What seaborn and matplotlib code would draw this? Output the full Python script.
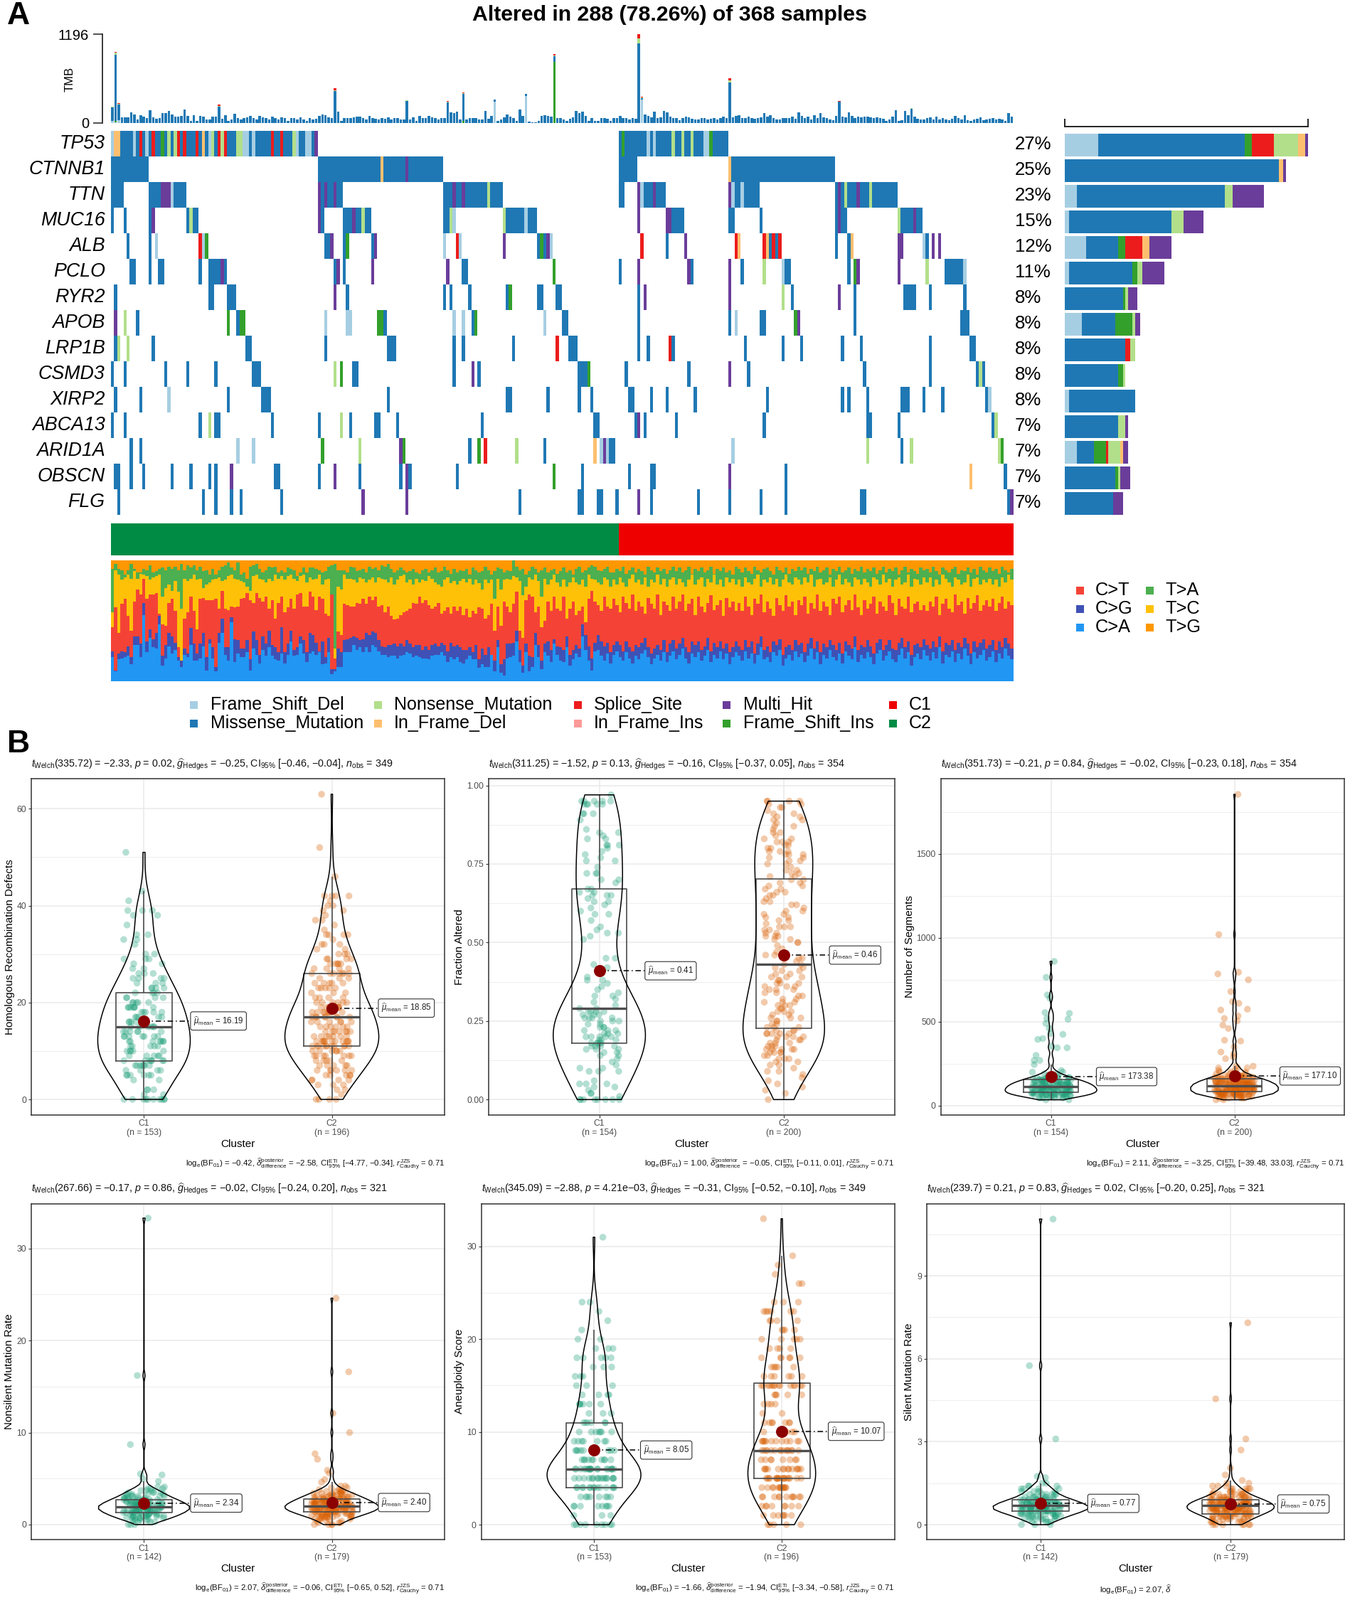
import numpy as np
import pandas as pd
import matplotlib
matplotlib.use('Agg')
import matplotlib.pyplot as plt
from matplotlib.colors import ListedColormap
from matplotlib.patches import Rectangle
import seaborn as sns

# 1. Oncoplot data, one run string per gene: "<samples><type>"
genes = ['TP53', 'CTNNB1', 'TTN', 'MUC16', 'ALB', 'PCLO', 'RYR2', 'APOB', 'LRP1B', 'CSMD3', 'XIRP2', 'ABCA13', 'ARID1A', 'OBSCN', 'FLG']
gene_pct = ['27%', '25%', '23%', '15%', '12%', '11%', '8%', '8%', '8%', '8%', '8%', '7%', '7%', '7%', '7%']

tp53_runs = "0F 1-2I 3-6M 7F 8M 9S 10M 11F 12M 13S 14-15M 16G 17M 18N 19M 20N 21S 22M 23S 24-26M 27S 28M 29I 30M 31F 32N 33M 34S 35N 36S 37-39M 40-41N 42-43F 44M 45F 46-50M 51S 52-53M 54S 55-57M 58N 59F 60-61M 62-63F 64M 65P 162M 163G 164-170M 171F 172M 173F 174-178M 179N 180-181M 182N 183-184M 185N 186-188M 189-190F 191G 192-196M"
ctnnb1_runs = "0-11M 66-85M 86I 87-93M 94P 95-105M 162-167M 197I 198-230M"
ttn_runs = "0-3M 12-15M 16-18P 19F 20-23M 66P 67M 68P 69-70M 71P 72-73M 106-108M 109P 110-111M 112P 113-119M 120N 121-124M 162-163M 168P 169F 170-172M 173P 174-176M 197P 198F 199-200M 201F 202-206M 231M 232P 233M 234N 235-237M 238P 239-241M 242N 243-250M"
muc16_runs = "0M 4M 12M 13P 24M 25N 26-27M 66P 67M 74-76M 77P 78-79M 80N 81-82M 106-107M 108N 109F 125N 126-131M 132F 133-135M 168P 177-178P 179-182M 197-198M 207M 231M 232P 233-234M 251N 252-255M 256P 257-258M"
alb_runs = "5M 12M 14F 28S 29F 30G 68-69M 70P 74M 75G 83M 84P 106F 110S 111F 125P 136M 137G 138M 139P 140F 169S 177M 183P 199S 200I 208S 209I 210M 211S 212M 213S 231M 235M 236I 251-252P 259F 260M 262P 264P"
pclo_runs = "6-7M 12M 15-16M 28M 31-34M 35P 36M 71M 72P 74M 83P 107P 112-113M 141G 162M 168P 184P 185M 197P 201M 208N 214F 215-216M 235M 237G 238P 251P 260N 266-271M 272F"
ryr2_runs = "1M 31-32M 37-39M 71P 75M 106M 108M 114M 126M 127G 136-137M 142-143M 168M 170P 197P 214N 217M 232P 237M 253-256M 261M 272M"
apob_runs = "1P 4N 8M 37G 40M 41-42G 68F 75-76F 85-86G 87M 109F 112F 115M 116G 138F 144-145M 168M 197M 199F 207-208M 218G 219P 237M 271-273M"
lrp1b_runs = "1M 2N 5N 13M 43-44M 68M 88-90M 109M 112M 128M 142S 146-148M 168M 171M 178S 179M 202M 214M 220M 233M 239M 261M 274-275M"
csmd3_runs = "0M 4M 17M 24M 33M 45-47M 71N 73G 77-78M 109M 115P 117M 149-151M 152G 164M 184M 197P 203M 240M 261M 276M 277N 278M"
xirp2_runs = "1M 9M 18F 37M 48-50M 88M 126-127M 139M 149M 153M 165-166M 172M 177M 186M 209M 233M 235M 241M 252-254M 259M 265M 279M 280F"
abca13_runs = "0M 4M 28M 31N 33-34M 51M 66M 73N 76M 84-85M 91M 118M 154-155M 167M 168P 170M 180M 208M 241-242M 251M 281M 282N"
arid1a_runs = "6M 9M 40F 45F 67G 79N 92P 93G 114M 117G 119S 129N 138M 154I 156F 157P 158F 159-160M 198F 241N 252M 255N 283N 284G"
obscn_runs = "1-2M 6M 10M 19M 25M 31M 33M 38P 52-53M 66M 71P 79M 92M 94P 95M 110M 141G 150M 165M 172-173M 197P 215M 274I 285M"
flg_runs = "2M 29M 33M 38M 41M 54M 80P 94P 130M 149-150M 155-156M 161M 168P 172M 187M 197M 207M 215M 239-240M 286M 287P"
gene_runs = [tp53_runs, ctnnb1_runs, ttn_runs, muc16_runs, alb_runs, pclo_runs, ryr2_runs, apob_runs, lrp1b_runs,
             csmd3_runs, xirp2_runs, abca13_runs, arid1a_runs, obscn_runs, flg_runs]

# TMB per sample
tmb_total = [
    223, 960, 265, 73, 77, 80, 144, 112, 48, 105, 90, 64, 169, 80, 57, 70, 137, 134, 160, 112,
    90, 86, 96, 182, 96, 32, 105, 32, 96, 90, 45, 48, 90, 90, 246, 57, 102, 32, 45, 121,
    64, 48, 70, 80, 96, 70, 45, 96, 80, 64, 45, 86, 64, 48, 80, 64, 32, 64, 70, 48,
    80, 48, 32, 64, 45, 57, 96, 112, 102, 80, 70, 469, 150, 32, 64, 64, 70, 80, 86, 90,
    64, 48, 96, 70, 57, 48, 64, 57, 80, 45, 64, 70, 48, 45, 310, 45, 80, 32, 96, 70,
    64, 96, 80, 64, 45, 64, 70, 293, 140, 134, 150, 48, 408, 45, 64, 70, 64, 45, 45, 160,
    57, 96, 319, 32, 48, 80, 112, 86, 64, 32, 182, 96, 395, 16, 10, 10, 32, 96, 102, 96,
    86, 925, 64, 64, 48, 32, 57, 77, 160, 134, 150, 96, 32, 70, 32, 32, 64, 64, 57, 32,
    64, 64, 96, 70, 64, 48, 70, 60, 1196, 357, 112, 96, 80, 150, 64, 80, 160, 140, 90, 64,
    64, 40, 70, 90, 80, 60, 45, 48, 64, 70, 45, 60, 70, 48, 64, 90, 70, 606, 80, 96,
    102, 64, 70, 90, 64, 60, 70, 80, 134, 90, 110, 64, 48, 45, 64, 70, 70, 90, 57, 143,
    96, 70, 90, 45, 110, 64, 134, 80, 70, 48, 40, 96, 297, 90, 80, 143, 96, 70, 90, 80,
    86, 90, 80, 64, 80, 64, 57, 32, 45, 90, 175, 32, 40, 166, 105, 200, 90, 60, 48, 48,
    64, 80, 48, 90, 45, 70, 48, 40, 60, 96, 70, 48, 110, 40, 32, 48, 60, 80, 40, 45,
    57, 64, 48, 60, 45, 32, 134, 90]
tmb_fsd = {0: 30, 1: 10, 2: 40, 122: 290, 132: 360, 169: 320}
tmb_fsi = {1: 15, 112: 25, 141: 820}
tmb_nonsense = {0: 8, 1: 25, 2: 8, 34: 8, 71: 12, 94: 8, 107: 8, 112: 6, 141: 6, 168: 60, 169: 8, 197: 30, 232: 6, 250: 6, 255: 6}
tmb_splice = {0: 6, 1: 15, 2: 6, 34: 15, 71: 25, 94: 6, 107: 8, 112: 8, 122: 8, 141: 15, 168: 60, 169: 12, 197: 30, 232: 8}

# right hand bars, samples per type for each gene
bar_fsd = [14, 0, 5, 2, 9, 2, 0, 7, 0, 0, 2, 0, 5, 0, 0]
bar_missense = [60, 88, 61, 42, 13, 26, 24, 14, 25, 22, 27, 22, 7, 21, 20]
bar_fsi = [3, 0, 0, 0, 3, 2, 1, 7, 0, 2, 0, 0, 5, 1, 0]
bar_splice = [9, 0, 0, 0, 7, 0, 0, 0, 2, 0, 0, 0, 1, 0, 0]
bar_nonsense = [10, 0, 3, 5, 0, 2, 1, 1, 2, 1, 0, 3, 5, 1, 0]
bar_ifd = [3, 2, 0, 0, 3, 0, 0, 0, 0, 0, 0, 0, 1, 0, 0]
bar_multi = [1, 1, 13, 8, 9, 9, 4, 2, 0, 0, 0, 1, 2, 4, 4]

# clusters: C2 then C1 along the samples
n_samples = 288
n_c2 = 162

# mutational signature, cumulative % at the top of each class
sig_ca = [
    20, 8, 18, 19, 20, 21, 14, 30, 30, 20, 55, 24, 36, 28, 27, 47, 13, 19, 29, 23,
    26, 17, 12, 22, 20, 30, 17, 17, 19, 29, 9, 31, 19, 8, 32, 40, 22, 17, 49, 16,
    23, 20, 20, 24, 9, 27, 22, 15, 26, 21, 28, 21, 18, 17, 23, 15, 22, 33, 21, 22,
    31, 23, 16, 23, 25, 22, 24, 14, 15, 24, 6, 8, 12, 12, 24, 24, 24, 30, 26, 28,
    24, 28, 24, 30, 28, 25, 22, 22, 20, 21, 21, 19, 21, 22, 24, 23, 20, 21, 20, 19,
    19, 18, 21, 22, 22, 24, 21, 16, 20, 18, 20, 16, 15, 18, 21, 18, 18, 11, 14, 12,
    12, 22, 8, 28, 7, 5, 19, 20, 21, 33, 16, 7, 24, 8, 12, 30, 20, 10, 24, 21,
    16, 31, 22, 17, 16, 28, 13, 18, 23, 20, 37, 26, 17, 9, 25, 26, 21, 17, 23, 15,
    22, 25, 20, 17, 24, 19, 15, 21, 18, 23, 26, 20, 14, 19, 22, 17, 24, 16, 21, 25,
    18, 22, 27, 19, 15, 23, 20, 24, 17, 21, 26, 16, 22, 19, 25, 18, 23, 14, 20, 24,
    21, 17, 25, 19, 23, 15, 22, 28, 18, 20, 16, 24, 21, 26, 13, 19, 22, 17, 25, 20,
    23, 16, 21, 27, 18, 24, 14, 22, 19, 26, 20, 17, 23, 15, 25, 21, 18, 28, 16, 22,
    19, 24, 20, 14, 23, 26, 17, 21, 25, 18, 16, 22, 27, 19, 24, 13, 20, 23, 18, 26,
    21, 17, 24, 19, 28, 15, 22, 20, 25, 16, 23, 18, 27, 21, 14, 24, 19, 22, 26, 17,
    20, 25, 16, 23, 19, 27, 21, 18]
sig_cg = [
    25, 9, 23, 25, 24, 29, 20, 37, 37, 31, 65, 33, 43, 35, 40, 54, 21, 30, 40, 37,
    32, 20, 17, 27, 23, 44, 31, 23, 31, 40, 20, 35, 28, 12, 40, 52, 28, 28, 53, 35,
    34, 27, 27, 34, 18, 41, 34, 22, 37, 31, 42, 30, 28, 24, 45, 24, 31, 42, 26, 28,
    37, 34, 24, 40, 38, 32, 25, 33, 20, 36, 10, 10, 27, 24, 34, 35, 36, 37, 36, 34,
    35, 40, 38, 41, 40, 34, 29, 28, 30, 30, 31, 29, 31, 29, 34, 31, 28, 30, 30, 26,
    29, 26, 30, 31, 29, 32, 30, 25, 32, 29, 30, 28, 26, 26, 28, 24, 30, 18, 27, 22,
    28, 22, 17, 34, 14, 18, 31, 31, 32, 42, 26, 13, 31, 21, 20, 40, 30, 17, 31, 33,
    26, 35, 29, 28, 26, 37, 22, 26, 30, 27, 47, 38, 29, 19, 32, 38, 33, 29, 32, 24,
    30, 33, 30, 25, 33, 28, 25, 30, 28, 32, 36, 28, 23, 27, 30, 26, 34, 24, 31, 34,
    27, 31, 36, 28, 24, 33, 30, 33, 26, 29, 36, 25, 32, 28, 33, 27, 31, 24, 28, 33,
    29, 26, 34, 28, 33, 23, 31, 37, 26, 29, 24, 33, 30, 35, 22, 28, 30, 26, 34, 30,
    32, 24, 31, 36, 27, 33, 24, 31, 28, 34, 30, 26, 32, 23, 33, 30, 27, 37, 26, 30,
    28, 34, 29, 23, 32, 35, 26, 30, 34, 27, 26, 32, 36, 28, 33, 22, 30, 31, 28, 35,
    30, 27, 33, 28, 37, 25, 32, 30, 34, 26, 32, 28, 36, 31, 23, 33, 28, 32, 35, 27,
    30, 34, 26, 33, 28, 36, 31, 27]
sig_ct = [
    45, 61, 40, 64, 68, 54, 42, 66, 76, 72, 85, 68, 72, 72, 73, 56, 47, 46, 65, 68,
    58, 28, 16, 52, 57, 70, 58, 43, 68, 69, 67, 67, 67, 68, 60, 75, 60, 59, 62, 61,
    62, 68, 69, 73, 67, 65, 73, 69, 66, 70, 60, 67, 52, 65, 70, 57, 61, 68, 60, 72,
    73, 62, 62, 74, 70, 59, 70, 68, 56, 54, 72, 19, 41, 38, 64, 63, 62, 62, 65, 64,
    68, 64, 70, 67, 70, 62, 63, 57, 62, 54, 51, 52, 55, 57, 58, 60, 65, 64, 70, 65,
    67, 63, 60, 62, 65, 56, 58, 61, 56, 62, 58, 62, 55, 60, 53, 58, 56, 61, 60, 52,
    55, 64, 42, 62, 46, 66, 62, 57, 64, 74, 42, 36, 67, 72, 70, 57, 62, 45, 50, 66,
    58, 70, 60, 58, 70, 52, 60, 66, 55, 58, 62, 49, 68, 75, 66, 63, 58, 70, 62, 60,
    68, 63, 57, 70, 65, 60, 72, 58, 66, 62, 56, 69, 64, 60, 72, 55, 66, 63, 58, 70,
    60, 66, 72, 58, 64, 68, 55, 70, 62, 57, 65, 71, 59, 63, 67, 54, 69, 61, 66, 58,
    65, 58, 70, 62, 55, 68, 64, 72, 57, 66, 60, 54, 69, 63, 58, 71, 62, 66, 55, 67,
    63, 70, 56, 65, 60, 72, 58, 66, 62, 55, 68, 64, 70, 57, 63, 67, 59, 72, 61, 55,
    67, 60, 64, 70, 56, 66, 62, 58, 71, 65, 55, 68, 62, 60, 70, 57, 64, 66, 59, 63,
    58, 66, 62, 70, 55, 64, 68, 60, 57, 72, 63, 66, 56, 69, 60, 65, 71, 58, 63, 67,
    62, 68, 58, 65, 70, 60, 66, 63]
sig_tc = [
    57, 92, 88, 84, 86, 88, 85, 91, 85, 89, 88, 87, 84, 86, 87, 88, 70, 77, 80, 75,
    83, 74, 60, 85, 83, 85, 88, 84, 85, 77, 80, 82, 84, 85, 86, 83, 84, 87, 88, 85,
    84, 83, 82, 78, 75, 87, 88, 85, 84, 82, 85, 83, 88, 85, 87, 84, 87, 88, 85, 83,
    87, 88, 82, 86, 84, 85, 88, 80, 84, 85, 72, 27, 78, 76, 88, 85, 85, 84, 82, 86,
    85, 82, 84, 86, 82, 86, 85, 84, 82, 86, 80, 84, 87, 88, 82, 84, 80, 85, 82, 84,
    83, 87, 85, 82, 80, 78, 84, 86, 81, 83, 80, 83, 85, 82, 85, 80, 84, 81, 76, 84,
    81, 84, 68, 85, 76, 84, 85, 84, 87, 86, 83, 71, 78, 86, 84, 88, 83, 70, 85, 80,
    84, 88, 82, 78, 84, 78, 82, 86, 82, 80, 84, 78, 88, 85, 84, 82, 80, 86, 84, 78,
    84, 80, 86, 82, 78, 85, 88, 82, 84, 80, 86, 78, 84, 82, 88, 80, 85, 78, 84, 86,
    80, 85, 82, 78, 84, 88, 80, 84, 86, 78, 85, 82, 88, 80, 84, 78, 86, 82, 85, 80,
    84, 78, 86, 82, 80, 85, 88, 78, 84, 82, 86, 80, 85, 78, 84, 88, 82, 80, 86, 84,
    80, 86, 82, 88, 78, 84, 85, 80, 82, 86, 78, 84, 88, 80, 85, 82, 78, 86, 84, 80,
    85, 82, 78, 86, 84, 80, 88, 82, 85, 78, 84, 86, 80, 82, 88, 78, 85, 84, 80, 86,
    82, 86, 78, 84, 80, 88, 85, 82, 78, 86, 84, 80, 82, 88, 78, 85, 86, 80, 84, 82,
    85, 80, 84, 78, 86, 82, 88, 84]
sig_ta = [
    93, 97, 93, 92, 88, 92, 97, 93, 90, 90, 93, 92, 96, 90, 91, 93, 94, 92, 95, 93,
    95, 92, 97, 92, 96, 94, 96, 92, 95, 91, 92, 88, 93, 88, 92, 95, 96, 98, 94, 92,
    98, 88, 90, 85, 95, 96, 97, 93, 90, 92, 95, 94, 95, 90, 92, 90, 94, 93, 92, 87,
    90, 94, 90, 94, 94, 93, 92, 90, 91, 95, 96, 97, 92, 92, 92, 90, 95, 94, 91, 92,
    93, 90, 95, 93, 94, 92, 96, 95, 97, 93, 90, 92, 94, 92, 90, 91, 93, 90, 89, 92,
    93, 90, 92, 94, 90, 91, 95, 92, 89, 93, 90, 92, 91, 93, 88, 94, 92, 90, 91, 95,
    92, 88, 91, 94, 93, 90, 92, 91, 100, 95, 92, 93, 88, 91, 95, 93, 90, 92, 94, 90,
    92, 93, 89, 91, 94, 90, 92, 88, 93, 95, 90, 92, 94, 96, 95, 92, 91, 93, 95, 90,
    90, 93, 91, 95, 89, 92, 94, 90, 93, 91, 88, 95, 92, 90, 94, 91, 93, 89, 92, 95,
    91, 94, 90, 92, 95, 89, 93, 91, 94, 90, 92, 95, 89, 93, 91, 94, 90, 92, 88, 95,
    93, 90, 94, 91, 89, 95, 92, 90, 93, 94, 91, 88, 95, 92, 90, 94, 89, 93, 91, 95,
    92, 94, 89, 93, 91, 95, 90, 92, 94, 88, 93, 91, 95, 90, 92, 94, 89, 93, 91, 95,
    90, 93, 91, 94, 89, 92, 95, 90, 93, 91, 94, 88, 92, 95, 90, 93, 91, 89, 94, 92,
    93, 90, 95, 91, 88, 94, 92, 90, 93, 95, 89, 92, 91, 94, 90, 93, 88, 95, 92, 90,
    94, 91, 93, 89, 95, 92, 90, 93]

# 2. Panel B data, distinct values and how many samples sit on them
hrd_c1_vals = [0, 1, 2, 4, 5, 6, 7, 8, 9, 10, 11, 12, 13, 14, 15, 16, 17, 18, 19, 20, 21, 22, 23, 24, 25, 26, 27, 28, 29, 30, 32, 33, 34, 36, 38, 39, 41, 43, 51]
hrd_c1_cnts = [10, 2, 3, 2, 6, 4, 7, 7, 5, 5, 5, 7, 7, 6, 6, 4, 5, 5, 7, 5, 4, 4, 4, 3, 4, 3, 2, 2, 3, 2, 1, 2, 2, 1, 2, 3, 1, 1, 1]
hrd_c2_vals = [0, 1, 2, 3, 4, 5, 6, 7, 8, 9, 10, 11, 12, 13, 14, 15, 16, 17, 18, 19, 20, 21, 22, 23, 24, 25, 26, 27, 28, 29, 30, 31, 32, 33, 34, 35, 36, 37, 38, 39, 40, 41, 42, 46, 52, 63]
hrd_c2_cnts = [4, 1, 2, 3, 4, 5, 6, 5, 5, 7, 6, 11, 11, 7, 7, 6, 6, 8, 9, 7, 6, 4, 3, 5, 5, 3, 7, 4, 5, 4, 3, 2, 3, 1, 4, 1, 1, 2, 1, 2, 2, 1, 4, 1, 1, 1]

frac_c1 = [0, 0, 0, 0, 0, 0, 0, 0, .01, .02, .02, .03, .04, .04, .05, .05, .05, .06, .09, .09, .09, .10, .10, .11, .12, .13, .14, .14, .15, .15, .16, .16, .16, .17, .17, .17, .17, .18,
           .18, .18, .18, .18, .19, .19, .19, .20, .20, .20, .20, .20, .21, .21, .21, .22, .22, .22, .23, .23, .23, .24, .24, .25, .25, .25, .26, .26, .26, .26, .27, .27, .27, .28, .28, .28, .28, .29, .29,
           .30, .31, .32, .33, .33, .34, .35, .36, .37, .38, .38, .39, .40, .42, .43, .45, .45, .51, .52, .53, .53, .54, .55, .57, .59, .59, .60, .61, .62, .63, .63, .64, .65, .65, .65, .66, .66, .67, .67,
           .69, .70, .70, .72, .72, .72, .74, .76, .76, .77, .78, .79, .80, .81, .81, .81, .83, .83, .84, .85, .85, .86, .89, .91, .91, .91, .94, .94, .94, .94, .94, .95, .95, .95, .95, .95, .97]
frac_c2 = [.00, .02, .03, .04, .05, .06, .07, .08, .09, .09, .10, .11, .11, .12, .12, .13, .13, .13, .14, .14, .15, .15, .15, .15, .16, .16, .16, .16, .16, .17, .17, .17, .18, .18, .18, .19, .19, .19, .20, .20, .20, .20, .21, .21, .21, .21, .21, .22, .22, .22,
           .23, .23, .23, .24, .24, .25, .25, .26, .26, .26, .27, .27, .28, .28, .28, .29, .29, .30, .30, .30, .31, .31, .31, .32, .32, .33, .33, .34, .34, .35, .35, .35, .36, .36, .36, .37, .37, .37, .38, .38, .39, .39, .39, .40, .40, .41, .41, .42, .42, .43,
           .43, .44, .45, .45, .46, .46, .47, .48, .49, .50, .50, .51, .51, .52, .52, .52, .53, .53, .54, .54, .55, .55, .55, .56, .57, .57, .58, .58, .59, .59, .60, .60, .61, .62, .62, .63, .63, .64, .65, .65, .66, .66, .67, .67, .68, .68, .69, .69, .70, .70,
           .71, .71, .72, .72, .73, .73, .74, .75, .75, .76, .76, .77, .77, .78, .78, .78, .79, .79, .79, .80, .80, .81, .81, .82, .82, .82, .83, .83, .84, .85, .85, .86, .87, .87, .88, .89, .89, .90, .90, .91, .91, .92, .93, .93, .94, .94, .95, .95, .95, .95]

seg_c1_vals = [35, 45, 50, 55, 60, 65, 70, 75, 80, 85, 90, 95, 100, 105, 110, 115, 120, 125, 130, 135, 140, 145, 150, 155, 160, 165, 170, 180, 190, 200, 210, 245, 270, 300, 345, 355, 395, 400, 425, 430, 460, 490, 515, 520, 550, 555, 640, 660, 765, 860]
seg_c1_cnts = [2, 3, 2, 5, 5, 5, 6, 6, 6, 6, 6, 5, 6, 5, 6, 5, 6, 5, 5, 5, 4, 4, 4, 4, 3, 3, 3, 3, 2, 2, 1, 1, 2, 1, 2, 1, 1, 1, 1, 1, 1, 1, 1, 1, 1, 1, 1, 1, 1, 1]
seg_c2_vals = [35, 45, 55, 60, 65, 70, 75, 80, 85, 90, 95, 100, 105, 110, 115, 120, 125, 130, 135, 140, 145, 150, 155, 160, 165, 170, 175, 180, 190, 200, 210, 225, 235, 280, 290, 310, 320, 350, 385, 390, 460, 480, 505, 520, 535, 570, 575, 610, 620, 680, 750, 785, 795, 1020, 1855]
seg_c2_cnts = [2, 5, 6, 6, 7, 7, 7, 7, 7, 7, 7, 7, 7, 7, 7, 7, 7, 7, 7, 6, 5, 5, 5, 5, 4, 4, 4, 3, 3, 3, 2, 3, 2, 1, 1, 1, 1, 1, 1, 1, 1, 1, 1, 1, 1, 1, 1, 1, 1, 1, 1, 1, 1, 1, 1]

nonsil_c1_vals = [0, .3, .5, .7, .9, 1.1, 1.3, 1.5, 1.7, 1.9, 2.1, 2.3, 2.5, 2.7, 2.9, 3.1, 3.3, 3.5, 3.7, 3.9, 4.1, 4.7, 5.0, 5.4, 5.5, 8.7, 16.2, 33.3]
nonsil_c1_cnts = [3, 3, 5, 6, 7, 8, 9, 9, 11, 11, 10, 9, 8, 8, 6, 5, 5, 4, 3, 3, 2, 1, 1, 1, 1, 1, 1, 1]
nonsil_c2_vals = [0, .2, .4, .6, .8, 1.0, 1.2, 1.4, 1.6, 1.8, 2.0, 2.2, 2.4, 2.6, 2.8, 3.0, 3.2, 3.4, 3.6, 3.8, 4.0, 4.2, 4.6, 4.9, 5.6, 5.9, 7.1, 7.7, 10, 12.1, 16.6, 24.6]
nonsil_c2_cnts = [4, 3, 3, 5, 7, 8, 10, 11, 13, 14, 14, 12, 12, 10, 10, 8, 7, 6, 5, 3, 2, 2, 1, 1, 1, 1, 1, 1, 1, 1, 1, 1]

aneu_c1_vals = [0, 1, 2, 3, 4, 5, 6, 7, 8, 9, 10, 11, 12, 13, 14, 15, 16, 17, 18, 19, 20, 21, 22, 23, 24, 31]
aneu_c1_cnts = [9, 3, 8, 8, 14, 16, 19, 10, 8, 7, 7, 6, 3, 6, 4, 3, 3, 3, 5, 3, 2, 1, 1, 1, 2, 1]
aneu_c2_vals = [0, 1, 2, 3, 4, 5, 6, 7, 8, 9, 10, 11, 12, 13, 14, 15, 16, 17, 18, 19, 20, 21, 22, 23, 24, 26, 27, 28, 29, 33]
aneu_c2_cnts = [5, 7, 8, 11, 13, 18, 14, 8, 15, 12, 4, 7, 2, 4, 5, 14, 6, 5, 6, 4, 5, 4, 4, 6, 3, 2, 1, 1, 1, 1]

silent_c1_vals = [0, .1, .2, .3, .4, .5, .6, .7, .8, .9, 1.0, 1.1, 1.2, 1.3, 1.4, 1.5, 1.7, 1.75, 3.1, 5.75, 11.05]
silent_c1_cnts = [3, 4, 7, 9, 12, 15, 18, 16, 14, 11, 8, 6, 5, 4, 3, 2, 1, 1, 1, 1, 1]
silent_c2_vals = [0, .1, .2, .3, .4, .5, .6, .7, .8, .9, 1.0, 1.1, 1.2, 1.3, 1.4, 1.5, 1.6, 1.8, 2.05, 2.7, 3.1, 4.55, 7.3]
silent_c2_cnts = [7, 6, 9, 12, 14, 18, 20, 19, 18, 14, 11, 8, 6, 5, 3, 2, 1, 1, 1, 1, 1, 1, 1]

ylabels = ['Homologous Recombination Defects', 'Fraction Altered', 'Number of Segments',
           'Nonsilent Mutation Rate', 'Aneuploidy Score', 'Silent Mutation Rate']
means_c1 = [16.19, 0.41, 173.38, 2.34, 8.05, 0.77]
means_c2 = [18.85, 0.46, 177.10, 2.40, 10.07, 0.75]
mean_fmt = ['16.19', '0.41', '173.38', '2.34', '8.05', '0.77']
mean_fmt2 = ['18.85', '0.46', '177.10', '2.40', '10.07', '0.75']
n_c1 = [153, 154, 154, 142, 153, 142]
n_c2_obs = [196, 200, 200, 179, 196, 179]
yticks = [[0, 20, 40, 60], [0, .25, .5, .75, 1], [0, 500, 1000, 1500], [0, 10, 20, 30], [0, 10, 20, 30], [0, 3, 6, 9]]
yminor = [[10, 30, 50], [.125, .375, .625, .875], [250, 750, 1250, 1750], [5, 15, 25], [5, 15, 25], [1.5, 4.5, 7.5, 10.5]]
ylims = [(-3.15, 66.15), (-0.048, 1.0206), (-53.6, 1947), (-1.6, 34.85), (-1.58, 34.6), (-0.53, 11.6)]

t_head = [r'$\mathit{t}_{\mathrm{Welch}}$(335.72) = −2.33, $\mathit{p}$ = 0.02, $\widehat{\mathit{g}}_{\mathrm{Hedges}}$ = −0.25, CI$_{95\%}$ [−0.46, −0.04], $\mathit{n}_{\mathrm{obs}}$ = 349',
          r'$\mathit{t}_{\mathrm{Welch}}$(311.25) = −1.52, $\mathit{p}$ = 0.13, $\widehat{\mathit{g}}_{\mathrm{Hedges}}$ = −0.16, CI$_{95\%}$ [−0.37, 0.05], $\mathit{n}_{\mathrm{obs}}$ = 354',
          r'$\mathit{t}_{\mathrm{Welch}}$(351.73) = −0.21, $\mathit{p}$ = 0.84, $\widehat{\mathit{g}}_{\mathrm{Hedges}}$ = −0.02, CI$_{95\%}$ [−0.23, 0.18], $\mathit{n}_{\mathrm{obs}}$ = 354',
          r'$\mathit{t}_{\mathrm{Welch}}$(267.66) = −0.17, $\mathit{p}$ = 0.86, $\widehat{\mathit{g}}_{\mathrm{Hedges}}$ = −0.02, CI$_{95\%}$ [−0.24, 0.20], $\mathit{n}_{\mathrm{obs}}$ = 321',
          r'$\mathit{t}_{\mathrm{Welch}}$(345.09) = −2.88, $\mathit{p}$ = 4.21e−03, $\widehat{\mathit{g}}_{\mathrm{Hedges}}$ = −0.31, CI$_{95\%}$ [−0.52, −0.10], $\mathit{n}_{\mathrm{obs}}$ = 349',
          r'$\mathit{t}_{\mathrm{Welch}}$(239.7) = 0.21, $\mathit{p}$ = 0.83, $\widehat{\mathit{g}}_{\mathrm{Hedges}}$ = 0.02, CI$_{95\%}$ [−0.20, 0.25], $\mathit{n}_{\mathrm{obs}}$ = 321']
delta = r'$\widehat{\delta}_{\mathrm{difference}}^{\mathrm{posterior}}$'
t_foot = [r'log$_{\mathrm{e}}$(BF$_{01}$) = −0.42, ' + delta + r' = −2.58, CI$_{95\%}^{\mathrm{ETI}}$ [−4.77, −0.34], $\mathit{r}_{\mathrm{Cauchy}}^{\mathrm{JZS}}$ = 0.71',
          r'log$_{\mathrm{e}}$(BF$_{01}$) = 1.00, ' + delta + r' = −0.05, CI$_{95\%}^{\mathrm{ETI}}$ [−0.11, 0.01], $\mathit{r}_{\mathrm{Cauchy}}^{\mathrm{JZS}}$ = 0.71',
          r'log$_{\mathrm{e}}$(BF$_{01}$) = 2.11, ' + delta + r' = −3.25, CI$_{95\%}^{\mathrm{ETI}}$ [−39.48, 33.03], $\mathit{r}_{\mathrm{Cauchy}}^{\mathrm{JZS}}$ = 0.71',
          r'log$_{\mathrm{e}}$(BF$_{01}$) = 2.07, ' + delta + r' = −0.06, CI$_{95\%}^{\mathrm{ETI}}$ [−0.65, 0.52], $\mathit{r}_{\mathrm{Cauchy}}^{\mathrm{JZS}}$ = 0.71',
          r'log$_{\mathrm{e}}$(BF$_{01}$) = −1.66, ' + delta + r' = −1.94, CI$_{95\%}^{\mathrm{ETI}}$ [−3.34, −0.58], $\mathit{r}_{\mathrm{Cauchy}}^{\mathrm{JZS}}$ = 0.71',
          r'log$_{\mathrm{e}}$(BF$_{01}$) = 2.07, $\widehat{\delta}$']

# 3. Colours and page layout
type_codes = {'F': 1, 'M': 2, 'N': 3, 'I': 4, 'S': 5, 'X': 6, 'P': 7, 'G': 8}
onco_colors = ['#FFFFFF', '#A6CEE3', '#1F78B4', '#B2DF8A', '#FDBF6F', '#EC1C1C', '#FB9A99', '#6A3D9A', '#33A02C']
sig_colors = {'C>T': '#F44336', 'C>G': '#3F51B5', 'C>A': '#2196F3', 'T>A': '#4CAF50', 'T>C': '#FFC107', 'T>G': '#FF9800'}

W, H = 1899, 2250
PT = 0.72  # one pixel in points at dpi 100

sns.set_theme(style='white')
plt.rcParams['font.family'] = ['Liberation Sans', 'DejaVu Sans']
plt.rcParams['text.color'] = 'black'
plt.rcParams['axes.labelcolor'] = 'black'
plt.rcParams['xtick.color'] = 'black'
plt.rcParams['ytick.color'] = 'black'
plt.rcParams['mathtext.fontset'] = 'custom'
plt.rcParams['mathtext.rm'] = 'Liberation Sans'
plt.rcParams['mathtext.it'] = 'Liberation Sans:italic'
plt.rcParams['mathtext.bf'] = 'Liberation Sans:bold'

fig = plt.figure(figsize=(W / 100, H / 100), dpi=100, facecolor='white')


def px_axes(left, top, right, bottom):
    return fig.add_axes([left / W, 1 - bottom / H, (right - left) / W, (bottom - top) / H])


def parse_runs(text):
    row = np.zeros(n_samples, dtype=int)
    for tok in text.split():
        parts = tok[:-1].split('-')
        row[int(parts[0]):int(parts[-1]) + 1] = type_codes[tok[-1]]
    return row


def nrd0(kde):
    # same bandwidth rule as R density()
    data = kde.dataset[0]
    sd = data.std(ddof=1)
    q1, q3 = np.percentile(data, [25, 75])
    spread = min(sd, (q3 - q1) / 1.34)
    return 0.9 * spread * len(data) ** -0.2 / sd


overlay = fig.add_axes([0, 0, 1, 1], zorder=10)
overlay.set_xlim(0, W)
overlay.set_ylim(H, 0)
overlay.axis('off')

# 4. TMB bars on top
ax_tmb = px_axes(156, 48, 1424.6, 173)
xs = np.arange(n_samples)
fsd = np.array([tmb_fsd.get(i, 0) for i in xs], dtype=float)
fsi = np.array([tmb_fsi.get(i, 0) for i in xs], dtype=float)
nons = np.array([tmb_nonsense.get(i, 0) for i in xs], dtype=float)
spl = np.array([tmb_splice.get(i, 0) for i in xs], dtype=float)
mis = np.array(tmb_total, dtype=float) - fsd - fsi - nons - spl
bottom = np.zeros(n_samples)
for vals, code in [(fsd, 1), (fsi, 8), (mis, 2), (nons, 3), (spl, 5)]:
    ax_tmb.bar(xs, vals, bottom=bottom, width=0.8, color=onco_colors[code], linewidth=0)
    bottom += vals
ax_tmb.set_xlim(-0.5, n_samples - 0.5)
ax_tmb.set_ylim(0, 1196)
ax_tmb.set_xticks([])
ax_tmb.set_yticks([0, 1196])
ax_tmb.tick_params(axis='y', left=True, length=13 * PT, width=1.1, labelsize=14.5, pad=4, color='#222222')
for s in ['top', 'right', 'bottom']:
    ax_tmb.spines[s].set_visible(False)
ax_tmb.spines['left'].set_position(('outward', 12.4 * PT))
ax_tmb.spines['left'].set_bounds(0, 1196)
ax_tmb.spines['left'].set_color('#222222')
ax_tmb.patch.set_alpha(0)
overlay.text(98, 111, 'TMB', rotation=90, ha='center', va='center', fontsize=12)

# 5. Oncoplot matrix
ax_onco = px_axes(156, 184, 1424.6, 724)
onco_df = pd.DataFrame(np.vstack([parse_runs(r) for r in gene_runs]), index=genes)
sns.heatmap(onco_df, ax=ax_onco, cmap=ListedColormap(onco_colors), vmin=-0.5, vmax=8.5, cbar=False,
            xticklabels=False, yticklabels=True)
ax_onco.set_ylabel('')
ax_onco.tick_params(axis='y', left=False, length=0, pad=6, labelsize=19.3, rotation=0)
for lab in ax_onco.get_yticklabels():
    lab.set_style('italic')
for i, pct in enumerate(gene_pct):
    overlay.text(1427, 184 + 36 * i + 19, pct, ha='left', va='center', fontsize=18.5)

# 6. Per gene stacked bars on the right
ax_bar = px_axes(1496.6, 184, 1838.6, 724)
left = np.zeros(15)
rows = np.arange(15) + 0.55
for vals, code in [(bar_fsd, 1), (bar_missense, 2), (bar_fsi, 8), (bar_splice, 5), (bar_nonsense, 3), (bar_ifd, 4), (bar_multi, 7)]:
    ax_bar.barh(rows, vals, left=left, height=0.9, color=onco_colors[code], linewidth=0)
    left += np.array(vals)
ax_bar.set_xlim(0, 100)
ax_bar.set_ylim(15, 0)
ax_bar.set_yticks([])
ax_bar.set_xticks([0, 100])
ax_bar.tick_params(axis='x', bottom=False, top=True, labelbottom=False, labeltop=False, length=11 * PT, width=1.4, direction='out', color='#222222')
for s in ['left', 'right', 'bottom']:
    ax_bar.spines[s].set_visible(False)
ax_bar.spines['top'].set_position(('outward', 6 * PT))
ax_bar.spines['top'].set_color('#222222')
ax_bar.spines['top'].set_linewidth(1.4)
ax_bar.patch.set_alpha(0)

# 7. Cluster strip and mutational signature stack
ax_anno = px_axes(156, 736, 1424.6, 781)
cluster_row = np.array([[0] * n_c2 + [1] * (n_samples - n_c2)])
sns.heatmap(cluster_row, ax=ax_anno, cmap=ListedColormap(['#008B45', '#EE0000']), cbar=False, xticklabels=False, yticklabels=False)

ax_sig = px_axes(156, 788, 1424.6, 958)
for vals, name in [([100] * n_samples, 'T>G'), (sig_ta, 'T>A'), (sig_tc, 'T>C'), (sig_ct, 'C>T'), (sig_cg, 'C>G'), (sig_ca, 'C>A')]:
    ax_sig.bar(xs, vals, width=1.0, color=sig_colors[name], linewidth=0)
ax_sig.set_xlim(-0.5, n_samples - 0.5)
ax_sig.set_ylim(0, 100)
ax_sig.axis('off')

# 8. Legends
for name, x_sq, y_sq in [('C>T', 1519, 830), ('C>G', 1519, 856), ('C>A', 1519, 882), ('T>A', 1617, 830), ('T>C', 1617, 856), ('T>G', 1617, 882)]:
    overlay.add_patch(Rectangle((x_sq - 5.5, y_sq - 5.5), 11, 11, color=sig_colors[name], lw=0))
    overlay.text(x_sq + 21, y_sq, name, ha='left', va='center', fontsize=18.3)

legend_names = ['Frame_Shift_Del', 'Missense_Mutation', 'Nonsense_Mutation', 'In_Frame_Del', 'Splice_Site', 'In_Frame_Ins', 'Multi_Hit', 'Frame_Shift_Ins', 'C1', 'C2']
legend_colors = [onco_colors[1], onco_colors[2], onco_colors[3], onco_colors[4], onco_colors[5], onco_colors[6], onco_colors[7], onco_colors[8], '#EE0000', '#008B45']
legend_sq_x = [273, 273, 532, 532, 813, 813, 1022, 1022, 1256, 1256]
legend_tx_x = [296, 296, 554, 554, 835, 835, 1045, 1045, 1278, 1278]
for i, name in enumerate(legend_names):
    y_sq = 991 if i % 2 == 0 else 1017
    overlay.add_patch(Rectangle((legend_sq_x[i] - 5.5, y_sq - 5.5), 11, 11, color=legend_colors[i], lw=0))
    overlay.text(legend_tx_x[i], y_sq, name, ha='left', va='center', fontsize=18)

overlay.text(941, 21, 'Altered in 288 (78.26%) of 368 samples', ha='center', va='center', fontsize=21.8, fontweight='bold')
overlay.text(10, 23, 'A', ha='left', va='center', fontsize=32, fontweight='bold')
overlay.text(10, 1046, 'B', ha='left', va='center', fontsize=32, fontweight='bold')

# 9. Violin panels
panel_c1 = [np.repeat(hrd_c1_vals, hrd_c1_cnts), np.array(frac_c1), np.repeat(seg_c1_vals, seg_c1_cnts),
            np.repeat(nonsil_c1_vals, nonsil_c1_cnts), np.repeat(aneu_c1_vals, aneu_c1_cnts), np.repeat(silent_c1_vals, silent_c1_cnts)]
panel_c2 = [np.repeat(hrd_c2_vals, hrd_c2_cnts), np.array(frac_c2), np.repeat(seg_c2_vals, seg_c2_cnts),
            np.repeat(nonsil_c2_vals, nonsil_c2_cnts), np.repeat(aneu_c2_vals, aneu_c2_cnts), np.repeat(silent_c2_vals, silent_c2_cnts)]
panel_left = [44, 687, 1322.8, 44, 676.7, 1302.8]
panel_right = [625, 1257.5, 1890.4, 625, 1257.5, 1890.4]
panel_top = [1095.4, 1095.4, 1095.4, 1692.9, 1692.9, 1692.9]
panel_bottom = [1567.5, 1567.5, 1567.5, 2164.7, 2164.7, 2164.7]
ylabel_x = [13, 645, 1277.5, 12, 645, 1277.5]
order = ['C1', 'C2']
point_colors = {'C1': '#1B9E77', 'C2': '#D95F02'}

for p in range(6):
    ax = px_axes(panel_left[p], panel_top[p], panel_right[p], panel_bottom[p])
    df = pd.DataFrame({'Cluster': ['C1'] * len(panel_c1[p]) + ['C2'] * len(panel_c2[p]),
                       'value': np.concatenate([panel_c1[p], panel_c2[p]])})
    sns.stripplot(data=df, x='Cluster', y='value', hue='Cluster', order=order, palette=point_colors, jitter=0.11,
                  size=9.5 * PT, alpha=0.33, linewidth=0, legend=False, ax=ax, zorder=2)
    sns.boxplot(data=df, x='Cluster', y='value', order=order, width=0.3, fill=False, color='#4D4D4D', linewidth=1.2,
                showcaps=False, showfliers=False, medianprops={'linewidth': 2.4, 'color': '#4D4D4D'}, ax=ax, zorder=3)
    sns.violinplot(data=df, x='Cluster', y='value', order=order, fill=False, color='black', linewidth=1.1, inner=None,
                   cut=0, width=0.5, density_norm='area', bw_method=nrd0, ax=ax, zorder=4)

    # mean dot with its label
    for i, (m, txt) in enumerate([(means_c1[p], mean_fmt[p]), (means_c2[p], mean_fmt2[p])]):
        ax.plot([i, i + 0.25], [m, m], color='black', lw=1.1, ls=(0, (5, 2.5, 1, 2.5)), zorder=5)
        ax.scatter([i], [m], s=(17 * PT) ** 2, color='#8B0000', linewidth=0, zorder=6)
        ax.text(i + 0.263, m, r'$\widehat{\mu}_{\mathrm{mean}}$ = ' + txt, ha='left', va='center', fontsize=8.3, color='#222222', zorder=7,
                bbox=dict(boxstyle='round,pad=0.35,rounding_size=0.25', fc='white', ec='#333333', lw=0.8))

    ax.set_xlim(-0.6, 1.6)
    ax.set_ylim(*ylims[p])
    ax.set_xticks([0, 1])
    ax.set_xticklabels([f'C1\n(n = {n_c1[p]})', f'C2\n(n = {n_c2_obs[p]})'], fontsize=8.7, color='#4D4D4D', linespacing=1.05)
    ax.set_yticks(yticks[p])
    if p == 1:
        ax.set_yticklabels(['0.00', '0.25', '0.50', '0.75', '1.00'])
    ax.set_yticks(yminor[p], minor=True)
    ax.tick_params(axis='both', which='major', length=3, width=0.8, color='#333333', labelsize=8.7, labelcolor='#4D4D4D', left=True, bottom=True, pad=2)
    ax.tick_params(axis='y', which='minor', length=0)
    ax.grid(True, which='major', color='#EBEBEB', lw=1.2)
    ax.grid(True, which='minor', axis='y', color='#EBEBEB', lw=0.6)
    ax.set_axisbelow(True)
    for s in ax.spines.values():
        s.set_color('#333333')
        s.set_linewidth(1.1)

    ax_w = panel_right[p] - panel_left[p]
    ax_h = panel_bottom[p] - panel_top[p]
    ax.set_xlabel('Cluster', fontsize=11, color='black')
    ax.xaxis.set_label_coords(0.5, -34.5 / ax_h)
    ax.set_ylabel(ylabels[p], fontsize=11, color='black')
    ax.yaxis.set_label_coords((ylabel_x[p] + 8 - panel_left[p]) / ax_w, 0.5)

    overlay.text(panel_left[p], panel_top[p] - 21, t_head[p], ha='left', va='center', fontsize=10.3, color='#111111')
    if p == 5:
        overlay.text((panel_left[p] + panel_right[p]) / 2, panel_bottom[p] + 70, t_foot[p], ha='center', va='center', fontsize=8.2, color='#111111')
    else:
        overlay.text(panel_right[p], panel_bottom[p] + 70, t_foot[p], ha='right', va='center', fontsize=8.2, color='#111111')

fig.savefig('out.png', dpi=100)
